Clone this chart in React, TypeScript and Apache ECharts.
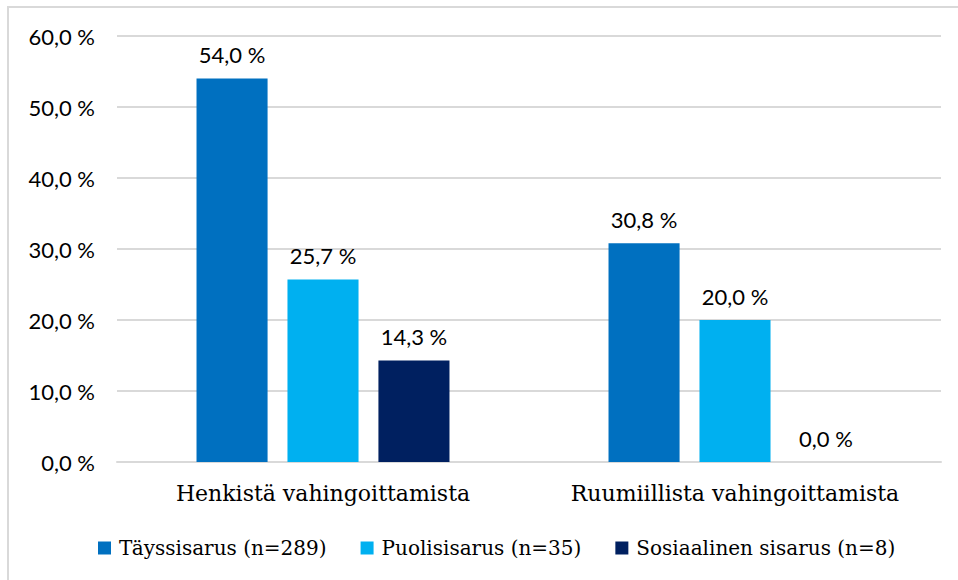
import React, { useEffect, useRef } from "react";
import * as echarts from "echarts";

const categories = ["Henkistä vahingoittamista", "Ruumiillista vahingoittamista"];
const seriesNames = ["Täyssisarus (n=289)", "Puolisisarus (n=35)", "Sosiaalinen sisarus (n=8)"];
const taysValues = [54.0, 30.8];
const puoliValues = [25.7, 20.0];
const sosValues = [14.3, 0.0];
const colors = ["#0070C0", "#00B0F0", "#002060"];

const fmt = (v: number) => v.toFixed(1).replace(".", ",") + " %";

export default function App() {
  const ref = useRef<HTMLDivElement>(null);
  useEffect(() => {
    if (!ref.current) return;
    const chart = echarts.init(ref.current, null, { renderer: "svg" });
    const data = [taysValues, puoliValues, sosValues];
    chart.setOption({
      animation: false,
      backgroundColor: "#ffffff",
      graphic: [
        {
          type: "rect",
          shape: { x: 8, y: 7, width: 980, height: 620 },
          style: { fill: "none", stroke: "#d9d9d9", lineWidth: 2 },
          silent: true,
        },
      ],
      grid: { left: 117, right: 17, top: 36, bottom: 118 },
      legend: {
        top: 533,
        left: 93,
        itemWidth: 13,
        itemHeight: 13,
        itemGap: 34,
        icon: "rect",
        textStyle: { fontFamily: "DejaVu Serif", fontSize: 20, color: "#000", padding: [0, 0, 0, 3] },
        data: seriesNames,
      },
      xAxis: {
        type: "category",
        data: categories,
        axisLine: { show: true, lineStyle: { color: "#d9d9d9", width: 2 } },
        axisTick: { show: false },
        axisLabel: {
          interval: 0,
          hideOverlap: false,
          fontFamily: "DejaVu Serif",
          fontSize: 22,
          color: "#000",
          margin: 20,
        },
      },
      yAxis: {
        type: "value",
        min: 0,
        max: 60,
        interval: 10,
        axisLine: { show: false },
        axisTick: { show: false },
        splitLine: { lineStyle: { color: "#d9d9d9", width: 2 } },
        axisLabel: {
          fontFamily: "Lato",
          fontSize: 22,
          color: "#000",
          margin: 22,
          formatter: (v: number) => fmt(v),
        },
      },
      series: seriesNames.map((name, i) => ({
        name,
        type: "bar",
        data: data[i],
        itemStyle: { color: colors[i] },
        barGap: "28%",
        barCategoryGap: "38.6%",
        label: {
          show: true,
          position: "top",
          distance: 13,
          fontFamily: "Lato",
          fontSize: 22,
          color: "#000",
          formatter: (p: any) => fmt(p.value),
        },
      })),
    });
    return () => chart.dispose();
  }, []);
  return <div ref={ref} style={{ position: "absolute", left: 0, top: 0, width: 958, height: 580 }} />;
}
